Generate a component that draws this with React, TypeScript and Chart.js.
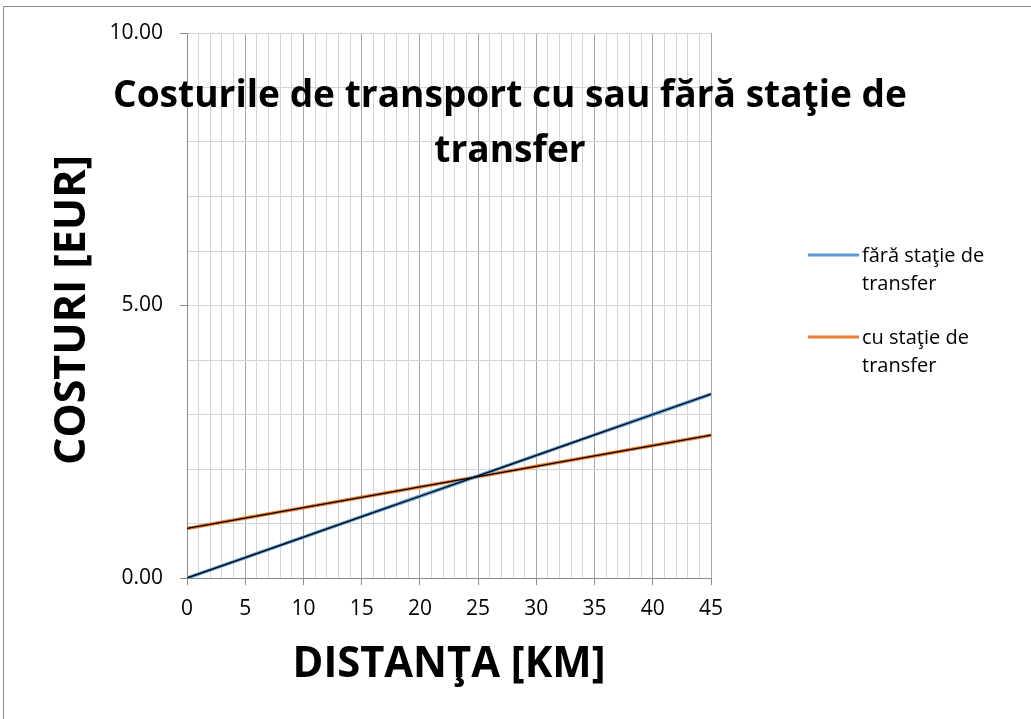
import React, { useEffect, useRef } from 'react';
import { Chart, registerables } from 'chart.js';

Chart.register(...registerables);

// ---- data ----
const distances = [0, 5, 10, 15, 20, 25, 30, 35, 40, 45];
const costWithout = [0, 0.375, 0.75, 1.125, 1.5, 1.875, 2.25, 2.625, 3.0, 3.375];
const costWith = [0.91, 1.1, 1.29, 1.48, 1.67, 1.86, 2.05, 2.24, 2.43, 2.62];
const seriesLabels = [
  ['fără staţie de', 'transfer'],
  ['cu staţie de', 'transfer'],
];
const seriesColors = ['#5b9bd5', '#ed7d31'];
const titleLines = ['Costurile de transport cu sau fără staţie de', 'transfer'];
const xTitle = 'DISTANŢA [KM]';
const yTitle = 'COSTURI [EUR]';
const xMajorStep = 5;
const yMajorStep = 5;

const FONT = '"Open Sans", "Liberation Sans", sans-serif';

function drawCondensed(ctx: CanvasRenderingContext2D, text: string, cx: number, y: number, ratio: number) {
  ctx.save();
  ctx.translate(cx, y);
  ctx.scale(ratio, 1);
  ctx.textAlign = 'center';
  ctx.fillText(text, 0, 0);
  ctx.restore();
}

const decorPlugin = {
  id: 'decor',
  beforeDraw(chart: any) {
    const ctx = chart.ctx as CanvasRenderingContext2D;
    ctx.save();
    ctx.fillStyle = '#ffffff';
    ctx.fillRect(0, 0, chart.width, chart.height);
    ctx.strokeStyle = '#8c8c8c';
    ctx.lineWidth = 1;
    ctx.beginPath();
    ctx.moveTo(3.5, chart.height);
    ctx.lineTo(3.5, 6.5);
    ctx.lineTo(chart.width, 6.5);
    ctx.stroke();
    ctx.restore();
  },
  afterDraw(chart: any) {
    const ctx = chart.ctx as CanvasRenderingContext2D;
    const area = chart.chartArea;
    ctx.save();
    ctx.fillStyle = '#000000';
    ctx.textBaseline = 'alphabetic';

    // Title (overlaps plot, like the original)
    ctx.font = `bold 38px ${FONT}`;
    const w1 = ctx.measureText(titleLines[0]).width;
    const tRatio = Math.min(1, 794 / w1);
    drawCondensed(ctx, titleLines[0], 510, 107, tRatio);
    drawCondensed(ctx, titleLines[1], 510, 162, tRatio);

    // X axis title
    ctx.font = `bold 43px ${FONT}`;
    const wx = ctx.measureText(xTitle).width;
    const xr = Math.min(1, 313 / wx);
    drawCondensed(ctx, xTitle, (area.left + area.right) / 2, 677, xr);

    // Y axis title
    const wy = ctx.measureText(yTitle).width;
    const yr = Math.min(1, 315 / wy);
    ctx.save();
    ctx.translate(85, 310);
    ctx.rotate(-Math.PI / 2);
    ctx.scale(yr, 1);
    ctx.textAlign = 'center';
    ctx.fillText(yTitle, 0, 0);
    ctx.restore();

    // Legend
    ctx.font = `20px ${FONT}`;
    const legendY = [256, 338];
    seriesLabels.forEach((lines, i) => {
      const y = legendY[i];
      ctx.strokeStyle = seriesColors[i];
      ctx.lineWidth = 3;
      ctx.beginPath();
      ctx.moveTo(808, y - 1);
      ctx.lineTo(859, y - 1);
      ctx.stroke();
      ctx.textAlign = 'left';
      ctx.textBaseline = 'middle';
      lines.forEach((ln, j) => {
        ctx.fillText(ln, 862, y + j * 28);
      });
    });
    ctx.restore();
  },
};

export default function App() {
  const ref = useRef<HTMLCanvasElement>(null);

  useEffect(() => {
    document.body.style.margin = '0';
    const canvas = ref.current!;
    const pts = (ys: number[]) => distances.map((d, i) => ({ x: d, y: ys[i] }));
    const chart = new Chart(canvas, {
      type: 'line',
      data: {
        datasets: [
          { label: seriesLabels[0].join(' '), data: pts(costWithout), borderColor: seriesColors[0], borderWidth: 3.5, pointRadius: 0, tension: 0, order: 2 },
          { label: seriesLabels[1].join(' '), data: pts(costWith), borderColor: seriesColors[1], borderWidth: 3.5, pointRadius: 0, tension: 0, order: 2 },
          { label: 'trend1', data: pts(costWithout), borderColor: '#000000', borderWidth: 1.3, pointRadius: 0, tension: 0, order: 0 },
          { label: 'trend2', data: pts(costWith), borderColor: '#000000', borderWidth: 1.3, pointRadius: 0, tension: 0, order: 0 },
        ],
      },
      options: {
        responsive: false,
        animation: false,
        layout: { padding: { left: 0, top: 33, right: 320, bottom: 0 } },
        plugins: {
          legend: { display: false },
          title: { display: false },
          tooltip: { enabled: false },
        },
        scales: {
          x: {
            type: 'linear',
            min: 0,
            max: 45,
            afterFit: (s: any) => { s.height = 141; },
            border: { color: '#8c8c8c', width: 1 },
            grid: {
              color: (c: any) => (c.tick && c.tick.value % xMajorStep === 0 ? '#a6a6a6' : '#d4d4d4'),
              tickColor: (c: any) => (c.tick && c.tick.value % xMajorStep === 0 ? '#8c8c8c' : 'rgba(0,0,0,0)'),
              tickLength: 7,
              lineWidth: 1,
            },
            ticks: {
              stepSize: 1,
              autoSkip: false,
              maxRotation: 0,
              padding: 11,
              color: '#000000',
              font: { family: FONT, size: 21 },
              callback: (v: any) => (Number(v) % xMajorStep === 0 ? String(v) : ''),
            },
          },
          y: {
            type: 'linear',
            min: 0,
            max: 10,
            afterFit: (s: any) => { s.width = 187; },
            border: { color: '#8c8c8c', width: 1 },
            grid: {
              color: '#d4d4d4',
              tickColor: (c: any) => (c.tick && c.tick.value % yMajorStep === 0 ? '#8c8c8c' : 'rgba(0,0,0,0)'),
              tickLength: 7,
              lineWidth: 1,
            },
            ticks: {
              stepSize: 1,
              autoSkip: false,
              padding: 17,
              color: '#000000',
              font: { family: FONT, size: 21 },
              callback: (v: any) => (Number(v) % yMajorStep === 0 ? Number(v).toFixed(2) : ''),
            },
          },
        },
      },
      plugins: [decorPlugin],
    });
    return () => chart.destroy();
  }, []);

  return <canvas ref={ref} width={1031} height={719} style={{ display: 'block' }} />;
}
